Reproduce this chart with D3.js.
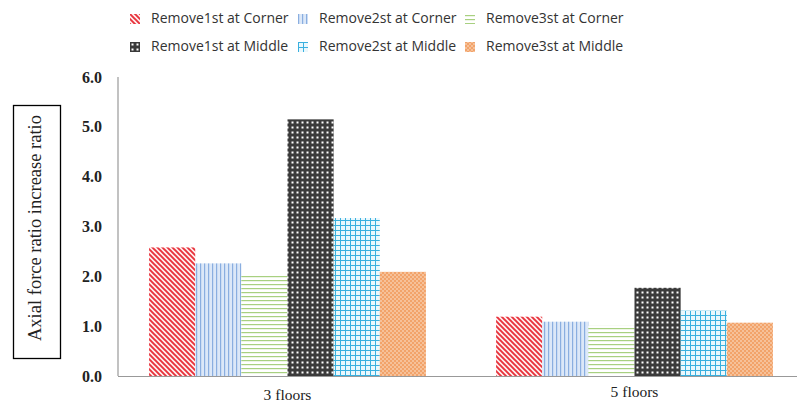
<!DOCTYPE html>
<html><head><meta charset="utf-8">
<script src="https://cdn.jsdelivr.net/npm/d3@7"></script>
<style>body{margin:0;background:#fff}svg{display:block}</style>
</head><body><div id="chart"></div>
<script>
const categories = ["3 floors", "5 floors"];
const seriesNames = ["Remove1st at Corner","Remove2st at Corner","Remove3st at Corner","Remove1st at Middle","Remove2st at Middle","Remove3st at Middle"];
const corner1 = [2.58, 1.19];
const corner2 = [2.26, 1.09];
const corner3 = [2.01, 1.01];
const middle1 = [5.15, 1.77];
const middle2 = [3.17, 1.31];
const middle3 = [2.09, 1.07];
const seriesValues = [corner1, corner2, corner3, middle1, middle2, middle3];
const yTicks = [0,1,2,3,4,5,6];

const W = 797, H = 403;
const svg = d3.select("#chart").append("svg").attr("width", W).attr("height", H);
const defs = svg.append("defs");

function pat(id, w, h, fn){
  const p = defs.append("pattern").attr("id", id).attr("patternUnits","userSpaceOnUse").attr("width",w).attr("height",h);
  fn(p); return "url(#"+id+")";
}
const fills = [
  pat("p0", 5, 5, p=>{
    p.append("rect").attr("width",5).attr("height",5).attr("fill","#fff0f0");
    p.append("path").attr("d","M-1,-1 L6,6 M-1,4 L1,6 M4,-1 L6,1").attr("stroke","#e8323c").attr("stroke-width",1.9);
  }),
  pat("p1", 4, 4, p=>{
    p.append("rect").attr("width",4).attr("height",4).attr("fill","#dce8f8");
    p.append("rect").attr("x",0).attr("width",1.2).attr("height",4).attr("fill","#8aaee0");
  }),
  pat("p2", 4, 4, p=>{
    p.append("rect").attr("width",4).attr("height",4).attr("fill","#ffffff");
    p.append("rect").attr("y",0).attr("width",4).attr("height",1.2).attr("fill","#a8d080");
  }),
  pat("p3", 5, 5, p=>{
    p.append("rect").attr("width",5).attr("height",5).attr("fill","#3a3a3a");
    p.append("rect").attr("x",1.5).attr("y",1.5).attr("width",2).attr("height",2).attr("fill","#ffffff");
  }),
  pat("p4", 5, 5, p=>{
    p.append("rect").attr("width",5).attr("height",5).attr("fill","#eaf8fd");
    p.append("rect").attr("x",0).attr("width",1).attr("height",5).attr("fill","#3ab0df");
    p.append("rect").attr("y",0).attr("width",5).attr("height",1).attr("fill","#3ab0df");
  }),
  pat("p5", 4, 4, p=>{
    p.append("rect").attr("width",4).attr("height",4).attr("fill","#f2a36a");
    p.append("circle").attr("cx",1).attr("cy",1).attr("r",0.8).attr("fill","#fde8d6");
    p.append("circle").attr("cx",3).attr("cy",3).attr("r",0.8).attr("fill","#fde8d6");
  })
];

const y = d3.scaleLinear().domain([0,6]).range([376, 77]);
const x0 = d3.scaleBand().domain(categories).range([114, 808]).paddingInner(0).paddingOuter(0);
const x1 = d3.scaleBand().domain(d3.range(6)).range([0, x0.bandwidth()]).paddingInner(0).paddingOuter(0.76);

categories.forEach((c, ci) => {
  seriesValues.forEach((vals, si) => {
    svg.append("rect")
      .attr("x", x0(c) + x1(si))
      .attr("y", y(vals[ci]))
      .attr("width", x1.bandwidth())
      .attr("height", y(0) - y(vals[ci]))
      .attr("fill", fills[si]);
  });
});

svg.append("line").attr("x1",118).attr("x2",118).attr("y1",77).attr("y2",376).attr("stroke","#999").attr("stroke-width",1.2);
svg.append("line").attr("x1",118).attr("x2",797).attr("y1",376.5).attr("y2",376.5).attr("stroke","#999").attr("stroke-width",1.2);

const yAxis = d3.axisLeft(y).tickValues(yTicks).tickFormat(d3.format(".1f")).tickSize(0).tickPadding(0);
const ya = svg.append("g").attr("transform","translate(102,0)").call(yAxis);
ya.select(".domain").remove();
ya.selectAll("text").attr("font-family","'Liberation Serif','Times New Roman',serif").attr("font-weight","bold").attr("font-size",16).attr("fill","#222");

const xa = svg.append("g").attr("transform","translate(0,376)").call(d3.axisBottom(x0).tickSize(0).tickPadding(0));
xa.select(".domain").remove();
xa.selectAll("text").attr("font-family","'Liberation Serif','Times New Roman',serif").attr("font-size",15.5).attr("fill","#222")
  .attr("dy", null).attr("y", (d,i)=> i===0 ? 20 : 17).attr("dominant-baseline","middle");

svg.append("rect").attr("x",13.5).attr("y",105.5).attr("width",47).attr("height",253).attr("fill","none").attr("stroke","#000").attr("stroke-width",1.3);
svg.append("text").attr("transform","translate(37,228) rotate(-90)").attr("text-anchor","middle").attr("dominant-baseline","middle")
  .attr("font-family","'Liberation Serif','Times New Roman',serif").attr("font-size",18.5).attr("fill","#222")
  .text("Axial force ratio increase ratio");

const legX = [130, 298, 465];
const legY = [19, 47];
seriesNames.forEach((n, i) => {
  const col = i % 3, row = Math.floor(i / 3);
  const g = svg.append("g").attr("transform", `translate(${legX[col]},${legY[row]})`);
  g.append("rect").attr("x",0).attr("y",-5).attr("width",10).attr("height",10).attr("fill", fills[i]);
  g.append("text").attr("x",21).attr("y",0).attr("dominant-baseline","middle")
    .attr("font-family","'Open Sans','DejaVu Sans',sans-serif").attr("font-size",14).attr("fill","#333").text(n);
});
</script></body></html>
